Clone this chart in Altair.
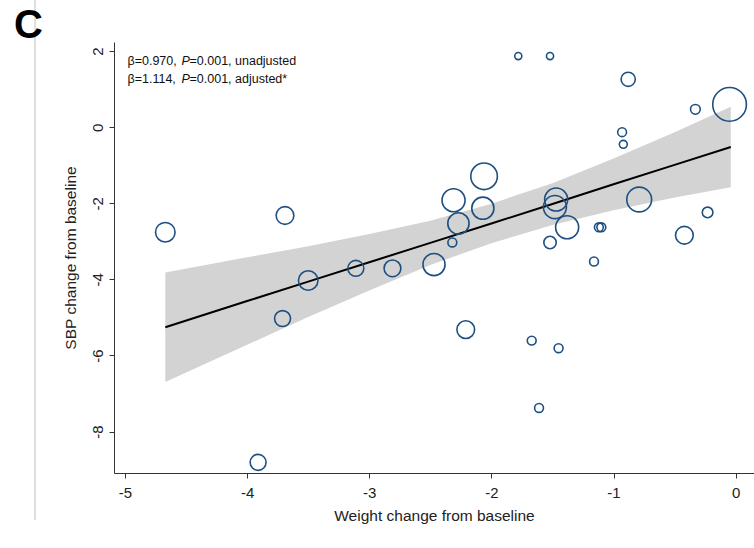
import altair as alt
import pandas as pd

# Bubbles: weight change (x), SBP change (y), relative weight (area)
wt_change = [-4.67, -3.69, -3.50, -3.71, -3.11, -2.81, -2.47, -2.31, -2.27, -2.32,
             -2.06, -2.07, -2.21, -3.91, -1.67, -1.45, -1.61, -1.78, -1.52, -0.88,
             -0.05, -0.33, -0.93, -0.92, -1.48, -1.47, -0.79, -1.38, -1.12, -1.10,
             -1.52, -0.42, -0.23, -1.16]
sbp_change = [-2.76, -2.32, -4.03, -5.03, -3.71, -3.71, -3.61, -1.92, -2.53, -3.03,
              -1.29, -2.13, -5.32, -8.81, -5.61, -5.81, -7.38, 1.87, 1.87, 1.26,
              0.60, 0.47, -0.13, -0.45, -2.10, -1.90, -1.90, -2.63, -2.63, -2.63,
              -3.03, -2.84, -2.24, -3.53]
weight = [121, 100, 121, 81, 81, 90, 156, 169, 144, 25,
          225, 156, 100, 81, 25, 25, 25, 16, 16, 64,
          361, 30, 25, 20, 169, 169, 196, 169, 25, 25,
          49, 100, 36, 25]

# Fitted line and 95% CI band
fit_x = [-4.67, -4.0, -3.5, -3.0, -2.5, -2.0, -1.5, -1.0, -0.5, -0.04]
fit_y = [-5.26, -4.57, -4.06, -3.55, -3.04, -2.53, -2.02, -1.50, -0.99, -0.52]
ci_lo = [-6.70, -5.72, -4.99, -4.29, -3.62, -3.05, -2.57, -2.18, -1.85, -1.58]
ci_hi = [-3.82, -3.42, -3.13, -2.81, -2.46, -2.01, -1.47, -0.82, -0.13, 0.54]

x_ticks = [-5, -4, -3, -2, -1, 0]
y_ticks = [2, 0, -2, -4, -6, -8]

pts = pd.DataFrame({"x": wt_change, "y": sbp_change, "w": weight})
fit = pd.DataFrame({"x": fit_x, "y": fit_y, "lo": ci_lo, "hi": ci_hi})

FONT = "Liberation Sans"
LBL = "datum.value < 0 ? '-' + abs(datum.value) : '' + datum.value"
xs = alt.Scale(domain=[-5.09, 0.15], nice=False, zero=False)
ys = alt.Scale(domain=[-9.09, 2.24], nice=False, zero=False)

xaxis = alt.Axis(values=x_ticks, labelExpr=LBL, title="Weight change from baseline", grid=False,
                 domainColor="#333", tickColor="#333", tickSize=5, labelFontSize=15,
                 labelFont=FONT, labelColor="#222", labelPadding=7, titleFont=FONT,
                 titleFontSize=15.5, titleFontWeight="normal", titleColor="#222",
                 titlePadding=8)
yaxis = alt.Axis(values=y_ticks, labelExpr=LBL, title="SBP change from baseline", grid=False,
                 domainColor="#333", tickColor="#333", tickSize=5, labelFontSize=15,
                 labelFont=FONT, labelColor="#222", labelAngle=270, labelAlign="center",
                 labelBaseline="bottom", labelPadding=4, titleFont=FONT,
                 titleFontSize=15.5, titleFontWeight="normal", titleColor="#222",
                 titlePadding=12)

band = alt.Chart(fit).mark_area(color="#d3d3d3", opacity=1).encode(
    x=alt.X("x:Q", scale=xs, axis=xaxis),
    y=alt.Y("lo:Q", scale=ys, axis=yaxis),
    y2="hi:Q",
)
line = alt.Chart(fit).mark_line(color="black", strokeWidth=2).encode(
    x=alt.X("x:Q", scale=xs), y=alt.Y("y:Q", scale=ys)
)
bubbles = alt.Chart(pts).mark_point(shape="circle", filled=False, color="#1d4f80",
                                    strokeWidth=1.6, opacity=1).encode(
    x=alt.X("x:Q", scale=xs),
    y=alt.Y("y:Q", scale=ys),
    size=alt.Size("w:Q", scale=alt.Scale(domain=[0, 400], range=[0, 1257]), legend=None),
)

def txt(s, x, y, italic=False, size=12.5):
    return alt.Chart(pd.DataFrame({"t": [s]})).mark_text(
        align="left", baseline="alphabetic", font=FONT, fontSize=size,
        fontStyle="italic" if italic else "normal", color="#111"
    ).encode(text="t:N", x=alt.value(x), y=alt.value(y))

ann = [
    txt("β=0.970,", 13.5, 23), txt("P", 67.5, 23, italic=True), txt("=0.001, unadjusted", 75.5, 23),
    txt("β=1.114,", 13.5, 41), txt("P", 67.5, 41, italic=True), txt("=0.001, adjusted*", 75.5, 41),
]

sep = alt.Chart(pd.DataFrame({"a": [0]})).mark_rule(color="#c0c0c0", strokeWidth=1).encode(
    x=alt.value(-79), y=alt.value(-42), y2=alt.value(478)
)
letter = alt.Chart(pd.DataFrame({"t": ["C"]})).mark_text(
    align="left", baseline="alphabetic", font=FONT, fontSize=40,
    fontWeight="bold", color="black"
).encode(text="t:N", x=alt.value(-100), y=alt.value(-4))

chart = alt.layer(sep, band, line, bubbles, letter, *ann).properties(
    width=640, height=431,
    padding={"left": 114, "top": 42, "right": 0, "bottom": 75},
    autosize=alt.AutoSizeParams(type="none"),
    background="white",
).configure_view(strokeWidth=0, stroke=None)

chart.save("out.html", embed_options={"renderer": "svg", "actions": False})
